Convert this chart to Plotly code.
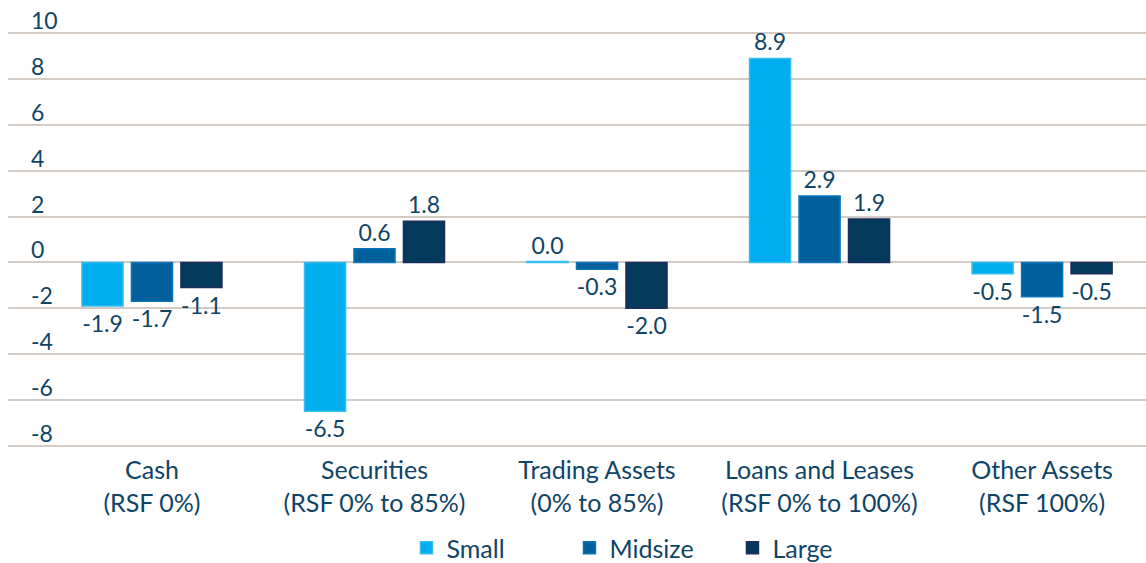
import plotly.graph_objects as go

categories = ["Cash<br>(RSF 0%)", "Securities<br>(RSF 0% to 85%)", "Trading Assets<br>(0% to 85%)",
              "Loans and Leases<br>(RSF 0% to 100%)", "Other Assets<br>(RSF 100%)"]
small = [-1.9, -6.5, 0.04, 8.9, -0.5]
midsize = [-1.7, 0.6, -0.3, 2.9, -1.5]
large = [-1.1, 1.8, -2.0, 1.9, -0.5]
series_names = ["Small", "Midsize", "Large"]
y_ticks = [-8, -6, -4, -2, 0, 2, 4, 6, 8, 10]

fill_colors = ["#00AEEF", "#00609C", "#033A5B"]
line_colors = ["#35BDF0", "#0A74BA", "#1E2E5C"]
text_color = "#0F4466"
font_family = "Lato"
FS_VAL = 23
FS_TICK = 23
FS_CAT = 25
FS_LEG = 25

fig = go.Figure()
for name, vals, fc, lc in zip(series_names, [small, midsize, large], fill_colors, line_colors):
    fig.add_trace(go.Bar(
        name=name, x=categories, y=vals,
        marker=dict(color=fc, line=dict(color=lc, width=1.5)),
        texttemplate="%{y:.1f}", textposition="outside",
        textfont=dict(color=text_color, size=FS_VAL, family=font_family),
        cliponaxis=False,
    ))

fig.update_layout(
    width=1146, height=563, autosize=False,
    margin=dict(l=8, r=0, t=31, b=115, autoexpand=False),
    paper_bgcolor="white", plot_bgcolor="white",
    barmode="group", bargap=0.333, bargroupgap=0.17,
    font=dict(family=font_family, size=FS_VAL, color=text_color),
    showlegend=True,
    legend=dict(orientation="h", x=0.565, xanchor="center", y=-0.24, yanchor="middle",
                entrywidth=118, entrywidthmode="pixels",
                font=dict(size=FS_LEG, color=text_color, family=font_family)),
)
fig.update_xaxes(
    type="category", range=[-0.647, 4.467], showgrid=False, zeroline=False, automargin=False,
    showline=False, ticks="", ticklabelstandoff=5,
    tickfont=dict(size=FS_CAT, color=text_color, family=font_family),
)
fig.update_yaxes(
    range=[-8.1, 10.1], tickvals=y_ticks, ticktext=[str(v) for v in y_ticks],
    showgrid=True, gridcolor="#D3CBC6", gridwidth=1.5, automargin=False,
    zeroline=True, zerolinecolor="#D3CBC6", zerolinewidth=1.5,
    showline=False, ticks="", ticklabelposition="inside top",
    ticklabeloverflow="allow", ticklabelshift=4, ticklabelstandoff=20,
    tickfont=dict(size=FS_TICK, color=text_color, family=font_family),
)

fig.write_html("out.html", config={"displayModeBar": False},
               post_script="document.body.style.margin='0';")
